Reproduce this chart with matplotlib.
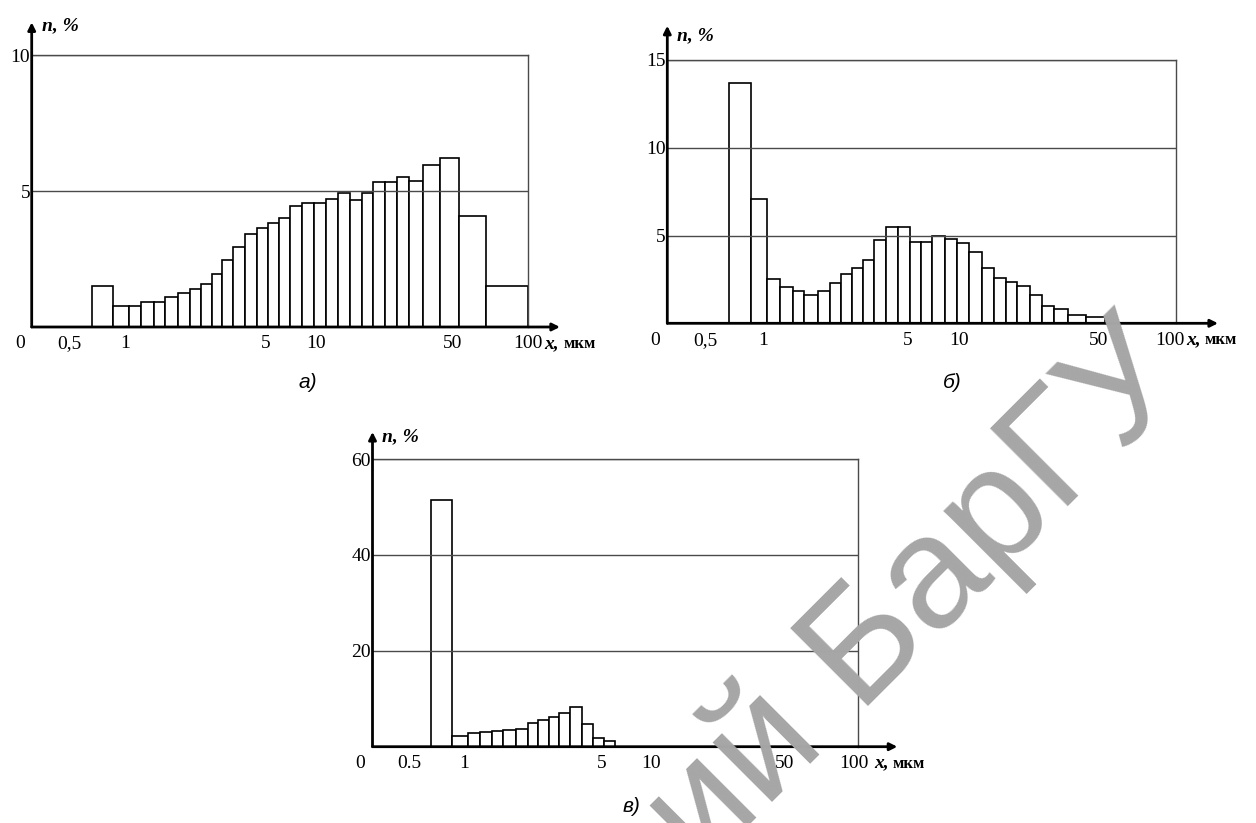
import numpy as np
import matplotlib.pyplot as plt
import matplotlib.transforms as mtransforms

plt.rcParams['font.family'] = ['Liberation Serif', 'DejaVu Serif']

# particle size bin edges, um (the three histograms share one grid)
edges = np.array([0.70, 0.89, 1.10, 1.45, 1.82, 2.14, 2.51, 2.85, 3.16, 3.46,
                  3.76, 4.07, 4.42, 4.75, 5.25, 6.34, 7.43, 8.66, 9.80, 13.05,
                  16.55, 20.04, 23.53, 26.73, 30.36, 33.85, 37.35, 41.27, 46.51,
                  54.28, 72.37, 100.0])

# n, % per bin
n_a = [1.51, 0.76, 0.76, 0.92, 0.92, 1.09, 1.26, 1.40, 1.57, 1.94, 2.45, 2.94,
       3.41, 3.64, 3.82, 3.99, 4.44, 4.56, 4.56, 4.69, 4.94, 4.66, 4.94, 5.34,
       5.34, 5.50, 5.35, 5.95, 6.20, 4.09, 1.51]
n_b = [13.7, 7.08, 2.51, 2.05, 1.82, 1.62, 1.86, 2.31, 2.79, 3.17, 3.58, 4.75,
       5.49, 5.49, 4.66, 4.66, 4.97, 4.79, 4.60, 4.06, 3.13, 2.57, 2.37, 2.10,
       1.62, 0.99, 0.82, 0.50, 0.35]
n_c = [51.5, 2.30, 2.94, 3.08, 3.22, 3.50, 3.78, 4.90, 5.59, 6.29, 7.13, 8.30,
       4.76, 1.89, 1.26]

x_ticks = [0, 0.5, 1, 5, 10, 50, 100]
# the printed axis is neither linear nor log: where each tick sits (0..100)
x_pos = [0, 7.5, 18.9, 47.2, 57.3, 84.8, 100]


def fwd(v):
    return np.interp(v, x_ticks, x_pos)


def inv(p):
    return np.interp(p, x_pos, x_ticks)


W, H = 1256, 823
fig = plt.figure(figsize=(W / 100, H / 100), dpi=100)


def rect(left, top, right, bottom):
    return [left / W, 1 - bottom / H, (right - left) / W, (bottom - top) / H]


def shift(lbl, dx):
    lbl.set_transform(lbl.get_transform() +
                      mtransforms.ScaledTranslation(dx / 100, 0, fig.dpi_scale_trans))


def panel(box, vals, yticks, half, arrow_top, arrow_right, n_dy, xlab_dx, last_dx):
    ax = fig.add_axes(box)
    ax.set_xscale('function', functions=(fwd, inv))
    k = len(vals)
    ax.bar(edges[:k], vals, width=np.diff(edges)[:k], align='edge',
           color='white', edgecolor='black', linewidth=1.2)
    ax.set_xlim(0, 100)
    ax.set_ylim(0, yticks[-1])

    ax.set_xticks(x_ticks)
    ax.set_xticklabels(['0', half, '1', '5', '10', '50', '100'])
    ax.set_yticks(yticks)
    ax.tick_params(axis='x', length=0, pad=6, labelsize=14)
    ax.tick_params(axis='y', length=0, pad=1, labelsize=14)
    labels = ax.get_xticklabels()
    shift(labels[0], -12)
    shift(labels[-1], last_dx)

    ax.grid(axis='y', color='#4a4a4a', lw=1.0)
    ax.grid(axis='x', visible=False)
    ax.set_axisbelow(False)
    for s in ['top', 'right']:
        ax.spines[s].set_color('#4a4a4a')
        ax.spines[s].set_linewidth(1.0)
    ax.spines['left'].set_visible(False)
    ax.spines['bottom'].set_visible(False)

    arr = dict(arrowstyle='-|>', color='black', lw=2, shrinkA=0, shrinkB=0,
               mutation_scale=11)
    ax.annotate('', xy=(0, arrow_top), xytext=(0, 0), xycoords='axes fraction',
                arrowprops=arr, annotation_clip=False)
    ax.annotate('', xy=(arrow_right, 0), xytext=(0, 0), xycoords='axes fraction',
                arrowprops=arr, annotation_clip=False)

    ax.annotate('n, %', xy=(0, 1), xycoords='axes fraction', xytext=(10, n_dy),
                textcoords='offset pixels', fontsize=14, fontweight='bold',
                fontstyle='italic', va='center', annotation_clip=False)
    xl = ax.annotate('x,', xy=(1, 0), xycoords='axes fraction',
                     xytext=(xlab_dx, -8), textcoords='offset pixels',
                     fontsize=14, fontweight='bold', fontstyle='italic',
                     va='top', annotation_clip=False)
    ax.annotate('мкм', xy=(1, 0), xycoords=xl, xytext=(4, 0),
                textcoords='offset pixels', fontsize=12, fontweight='bold',
                va='bottom')
    return ax


panel(rect(31.7, 55, 527.7, 327), n_a, [5, 10], '0,5', 1.12, 1.065, 29, 17, 0)
panel(rect(667.3, 60, 1175.8, 323.3), n_b, [5, 10, 15], '0,5', 1.13, 1.083, 24, 10, -6)
panel(rect(372.5, 459, 858, 746.7), n_c, [20, 40, 60], '0.5', 1.094, 1.081, 22, 16, -4)

lab = dict(family=['Liberation Sans', 'DejaVu Sans'], style='italic',
           fontsize=15, ha='center', va='center')
fig.text(308 / W, 1 - 383 / H, 'а)', **lab)
fig.text(952 / W, 1 - 383 / H, 'б)', **lab)
fig.text(632 / W, 1 - 806 / H, 'в)', **lab)

# watermark of the source scan
fig.text(1192 / W, 1 - 382 / H, 'Репозиторий БарГУ', rotation=45,
         rotation_mode='anchor', ha='right', va='baseline', fontsize=115,
         family=['Liberation Sans', 'DejaVu Sans'], color='#a6a6a6', zorder=10)

fig.savefig('out.png', dpi=100)
